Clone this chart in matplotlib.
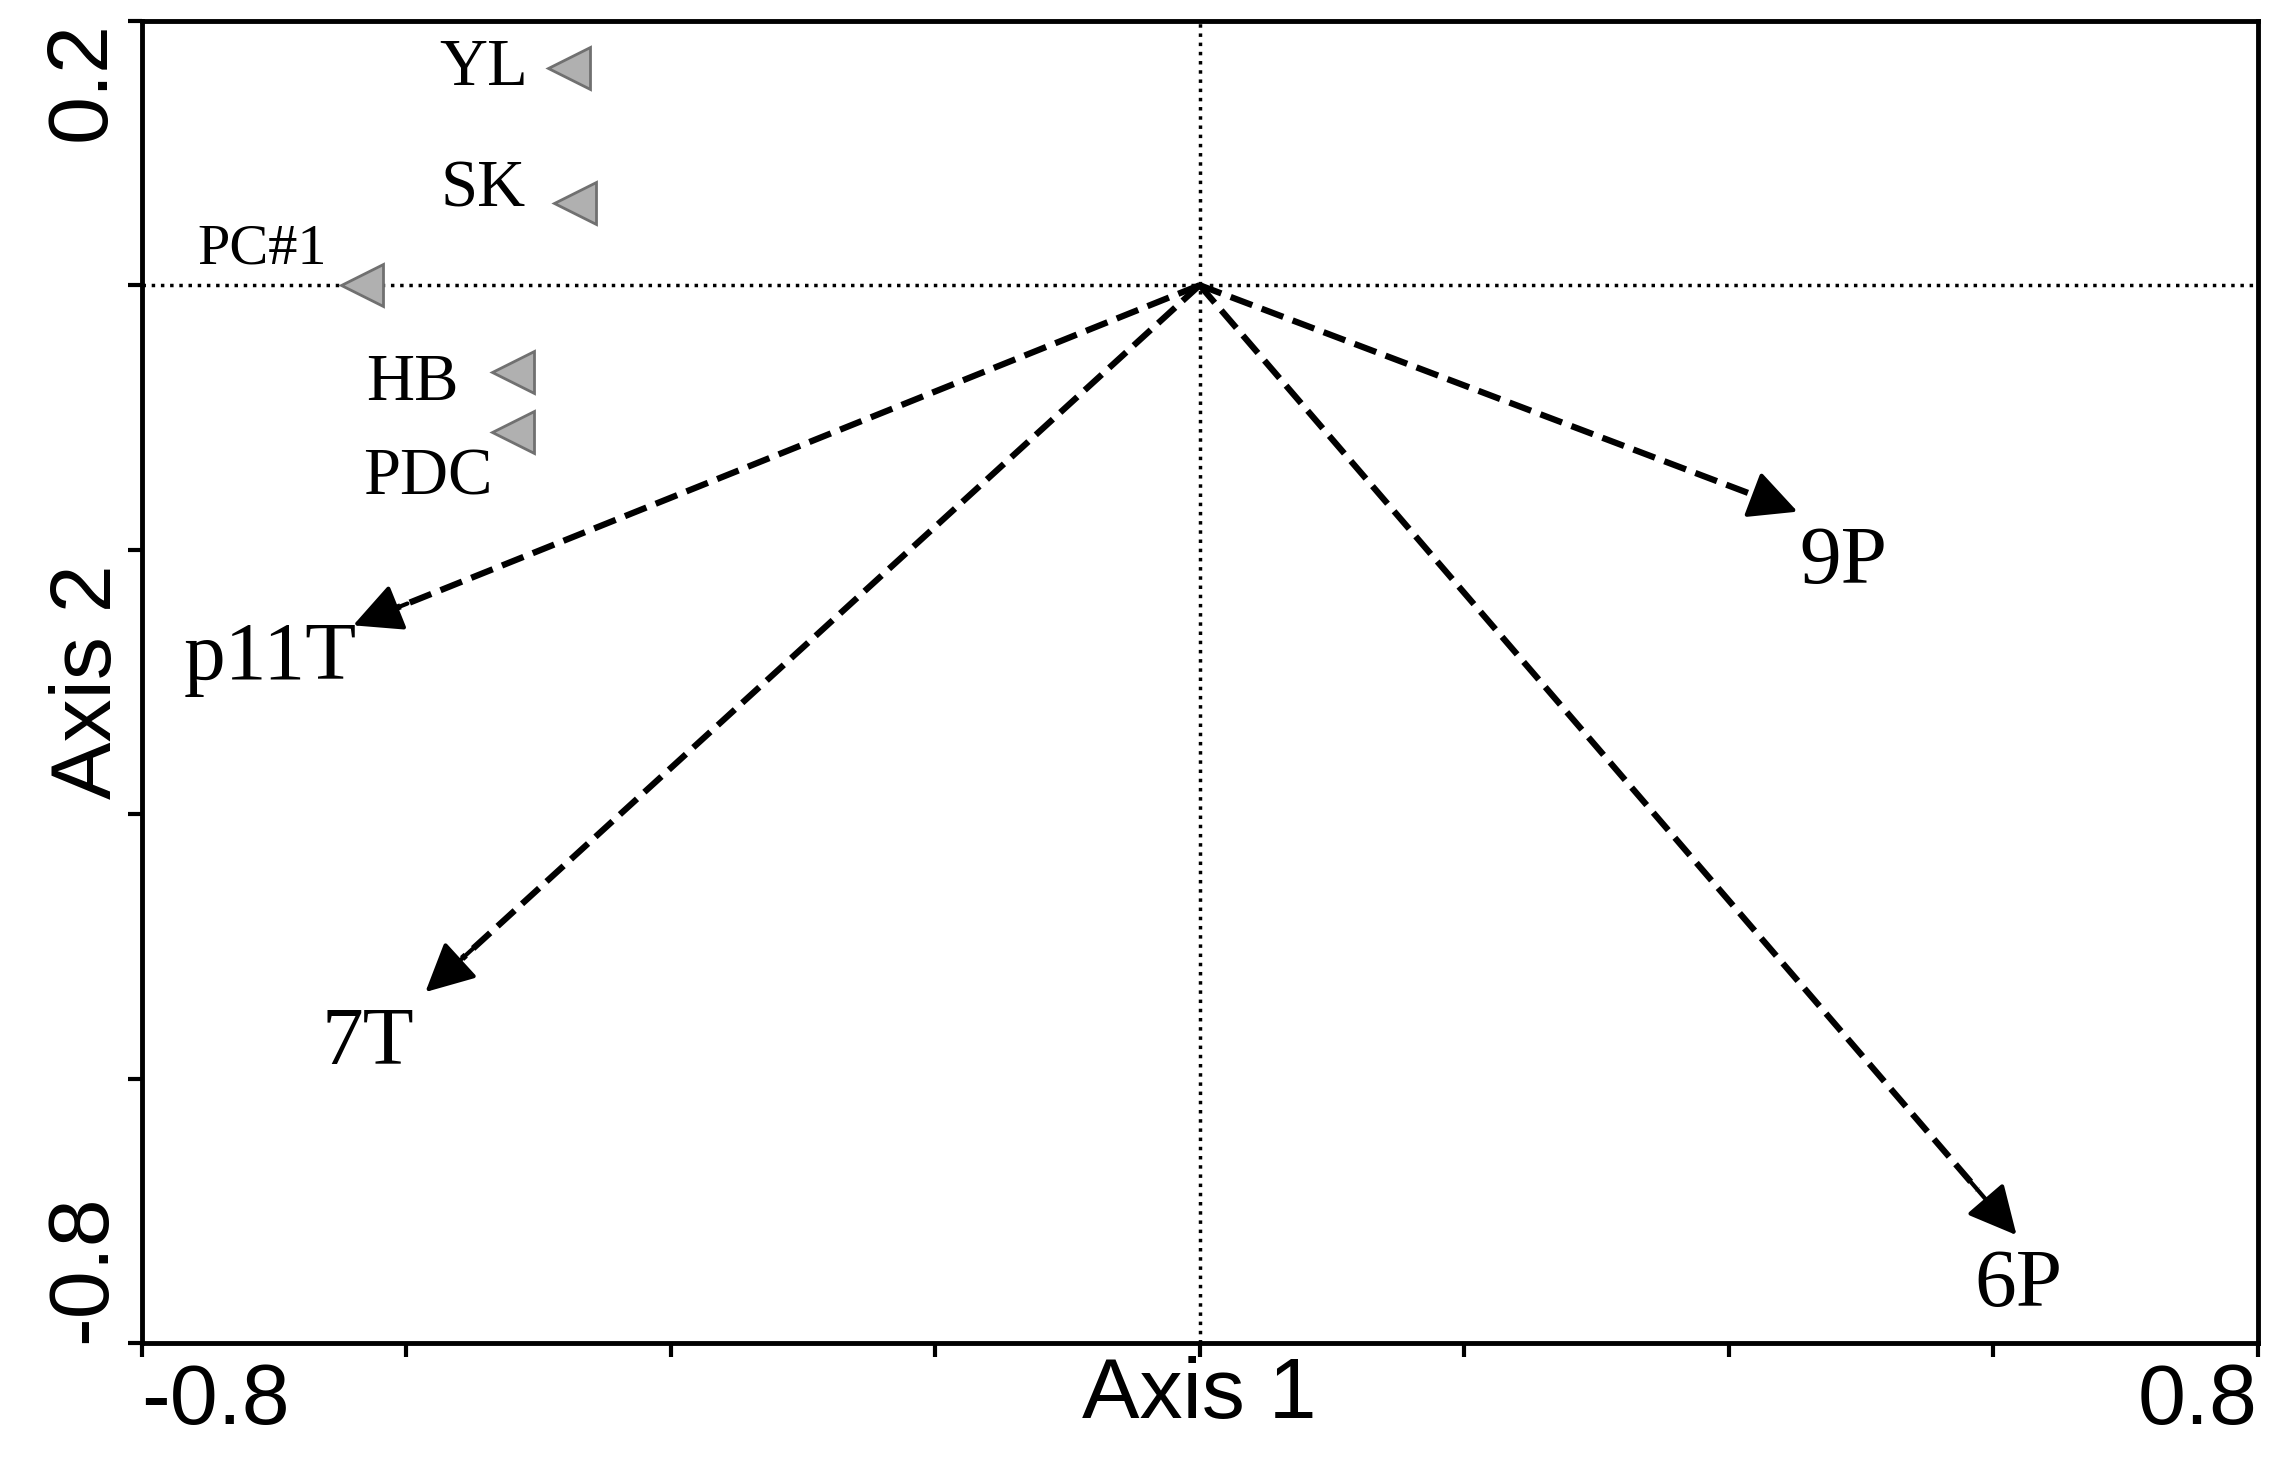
import numpy as np
import matplotlib.pyplot as plt

# site scores (grey triangles)
site_names = ["YL", "SK", "PC#1", "HB", "PDC"]
site_x = [-0.477, -0.472, -0.633, -0.519, -0.519]
site_y = [0.164, 0.062, 0.000, -0.066, -0.111]
site_lx = [-0.508, -0.510, -0.660, -0.560, -0.535]
site_ly = [0.164, 0.072, 0.027, -0.074, -0.146]
site_fs = [48, 48, 42, 48, 48]

# variable vectors (dashed arrows)
vec_names = ["p11T", "7T", "9P", "6P"]
vec_x = [-0.642, -0.587, 0.454, 0.619]
vec_y = [-0.258, -0.536, -0.172, -0.720]
vec_lx = [-0.703, -0.629, 0.487, 0.619]
vec_ly = [-0.283, -0.574, -0.210, -0.757]

fig = plt.figure(figsize=(22.84, 14.84), dpi=100)
ax = fig.add_axes([0.062, 0.095, 0.9265, 0.891])
ax.set_xlim(-0.8, 0.8)
ax.set_ylim(-0.8, 0.2)

ax.axhline(0, color='black', linestyle=':', linewidth=2.5)
ax.axvline(0, color='black', linestyle=':', linewidth=2.5)

for x, y, lx, ly, name in zip(vec_x, vec_y, vec_lx, vec_ly, vec_names):
    ax.plot([0, x * 0.95], [0, y * 0.95], color='black', linestyle='--', linewidth=4.5)
    ax.annotate('', xy=(x, y), xytext=(x * 0.93, y * 0.93),
                arrowprops=dict(arrowstyle='-|>', color='black', lw=3,
                                mutation_scale=75))
    ax.text(lx, ly, name, fontsize=60, family='Liberation Serif',
            ha='center', va='center')

ax.plot(site_x, site_y, '<', markersize=30, color='#b0b0b0',
        markeredgecolor='#707070', markeredgewidth=2, linestyle='none')
for lx, ly, name, fs in zip(site_lx, site_ly, site_names, site_fs):
    ax.text(lx, ly, name, fontsize=fs, family='Liberation Serif',
            ha='right', va='center')

for s in ax.spines.values():
    s.set_linewidth(3.5)
ax.set_xticks(np.arange(-0.8, 0.81, 0.2))
ax.set_yticks(np.arange(-0.8, 0.21, 0.2))
ax.set_xticklabels(['-0.8', '', '', '', '', '', '', '', '0.8'])
ax.set_yticklabels(['-0.8', '', '', '', '', '0.2'])
ax.tick_params(direction='out', length=10, width=3, labelsize=62)
xt = ax.get_xticklabels()
xt[0].set_ha('left')
xt[-1].set_ha('right')
yt = ax.get_yticklabels()
for t in yt:
    t.set_rotation(90)
yt[0].set_va('bottom')
yt[-1].set_va('top')
for t in xt + yt:
    t.set_family('Liberation Sans')
ax.set_xlabel('Axis 1', fontsize=62, family='Liberation Sans', labelpad=-62)
ax.set_ylabel('Axis 2', fontsize=62, family='Liberation Sans', labelpad=-62)

fig.savefig('out.png', dpi=100)
